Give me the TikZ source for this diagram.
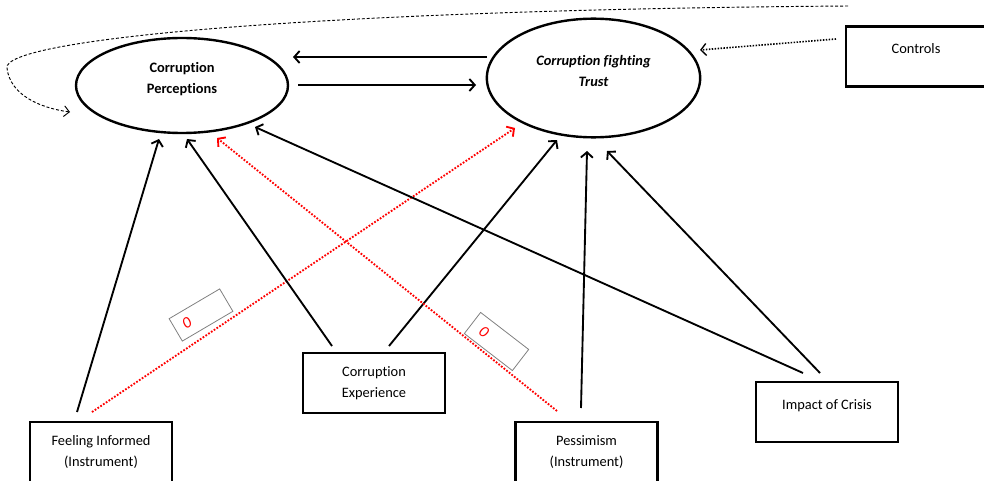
\documentclass[tikz,border=0pt]{standalone}
\usepackage{fontspec}
\setmainfont[Ligatures=NoCommon]{Carlito}
\usetikzlibrary{arrows.meta,calc,shapes.geometric}
\begin{document}
\begin{tikzpicture}[x=0.75pt,y=-0.75pt,
  every node/.style={font=\fontsize{10.8}{15.75}\selectfont},
  oval/.style={ellipse,draw,line width=1.8pt,inner sep=0pt},
  ovaltext/.style={align=center,font=\fontsize{10.8}{15.75}\selectfont\bfseries},
  varbox/.style={rectangle,draw,line width=2pt,minimum width=106.5pt,minimum height=45pt,align=center,inner sep=0pt},
  zerobox/.style={rectangle,draw=gray,line width=0.6pt,text=red,align=left,inner ysep=0pt,minimum height=19.5pt,font=\fontsize{12}{14}\selectfont\itshape},
  conn/.style={line width=1.4pt,-{Straight Barb[length=4pt,width=9pt,line width=1.4pt]}},
  redconn/.style={conn,red,dash pattern=on 1.3pt off 1.2pt},
  dotconn/.style={line width=1.2pt,dash pattern=on 1.1pt off 1.1pt,-{Straight Barb[length=4pt,width=9pt,line width=1pt]}},
  dashconn/.style={line width=0.7pt,dash pattern=on 2.2pt off 1.5pt,-{Straight Barb[length=4pt,width=8pt,line width=0.7pt]}}
]
\useasboundingbox (0,0) rectangle (984,481);

% latent variables
\node[oval,minimum width=159pt,minimum height=71.25pt,
  label={[ovaltext,yshift=4.5pt]center:Corruption\\Perceptions}] (cp) at (182,85.5) {};
\node[oval,minimum width=160pt,minimum height=89pt,
  label={[ovaltext,yshift=5.6pt]center:\itshape Corruption fighting\\\itshape Trust}] (ct) at (593.5,78) {};

% observed variables
\node[varbox,minimum width=105pt] (ctrl) at (916,56.5) {Controls\\[-4pt]\mbox{}};
\node[varbox] (fi) at (101,452) {Feeling Informed\\(Instrument)};
\node[varbox] (ce) at (374,383) {Corruption\\Experience};
\node[varbox] (pe) at (586.5,452) {Pessimism\\(Instrument)};
\node[varbox] (ic) at (827,412) {Impact of Crisis\\[-4pt]\mbox{}};

% zero labels
\node[zerobox,rotate=30.5,text width=31pt,inner xsep=6.5pt] (z1) at (201,315) {0};
\node[zerobox,rotate=-37.6,text width=30pt,inner xsep=7.75pt,minimum height=20pt] (z2) at (496.5,341.5) {0};

% connectors between latent variables
\draw[conn] ($(ct)+(-106.5,-21)$) -- ($(cp)+(111,-28.5)$);
\draw[conn] ($(cp)+(116,-0.5)$) -- ($(ct)+(-117.5,7)$);

% controls
\draw[dotconn] ($(ctrl)+(-80,-17.5)$) -- ($(ct)+(106.5,-28)$);
\draw[dashconn] ($(ctrl)+(-68,-50.5)$) .. controls (300,10) and (2,40) .. (7,68)
  .. controls (10,95) and (40,108) .. ($(cp)+(-112,26.5)$);

% from observed variables
\draw[conn] ($(fi)+(-24,-40)$) -- ($(cp)+(-23,53.5)$);
\draw[redconn] ($(fi)+(-9,-40)$) -- ($(ct)+(-78.5,50)$);
\draw[conn] ($(ce)+(-42,-37)$) -- ($(cp)+(5,53.5)$);
\draw[conn] ($(ce)+(15,-37)$) -- ($(ct)+(-36.5,62)$);
\draw[conn] ($(pe)+(-5.5,-44)$) -- ($(ct)+(-6.5,73)$);
\draw[redconn] ($(pe)+(-29.5,-41)$) -- ($(cp)+(35,52.5)$);
\draw[conn] ($(ic)+(-24,-39)$) -- ($(cp)+(73,41.5)$);
\draw[conn] ($(ic)+(-7,-39)$) -- ($(ct)+(13.5,73)$);
\end{tikzpicture}
\end{document}
